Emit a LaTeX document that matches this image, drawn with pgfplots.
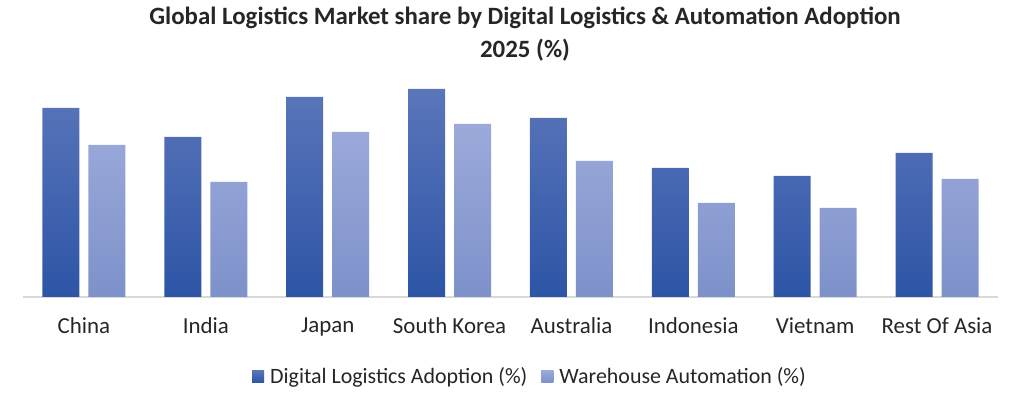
\documentclass[border=0pt]{standalone}
\usepackage{pgfplots}
\pgfplotsset{compat=1.18}
\usepackage{fontspec}
\setmainfont{Carlito}
\definecolor{dtop}{HTML}{5A75BA}
\definecolor{dbot}{HTML}{2D55A6}
\definecolor{ltop}{HTML}{9CAADA}
\definecolor{lbot}{HTML}{7D91CA}
\definecolor{dleg}{HTML}{3D62AE}
\definecolor{lleg}{HTML}{8C9ED3}
\begin{document}
\begin{tikzpicture}
\path[use as bounding box] (0,0) rectangle (1022bp,394bp);
\begin{axis}[
  at={(23bp,97bp)}, anchor=south west,
  scale only axis, width=975bp, height=230bp,
  xmin=-0.5, xmax=7.5, ymin=0, ymax=57.5,
  axis x line=bottom, axis y line=none,
  axis line style={-, draw=black!15, line width=1.2bp},
  xtick=data, major tick length=0pt,
  xticklabels={China, India, Japan, South Korea, Australia, Indonesia, Vietnam, Rest Of Asia},
  xticklabel style={font=\fontsize{23}{26}\selectfont, text=black!85, yshift=-17bp},
  ybar, bar width=37bp,
  legend columns=2,
  legend style={draw=none, at={(axis description cs:0.52,-0.345)}, anchor=center,
    font=\fontsize{22}{25}\selectfont, text=black!85,
    /tikz/every odd column/.append style={column sep=4bp},
    /tikz/every even column/.append style={column sep=12bp}},
]
\addplot[draw=none, top color=dtop, bottom color=dbot, bar shift=-23bp,
  legend image code/.code={\fill[dleg] (0bp,-6bp) rectangle (12bp,6bp);}]
  coordinates {(0,47.25) (1,40) (2,50) (3,52) (4,44.75) (5,32.25) (6,30.25) (7,36)};
\addlegendentry{Digital Logistics Adoption (\%)}
\addplot[draw=none, top color=ltop, bottom color=lbot, bar shift=23bp,
  legend image code/.code={\fill[lleg] (0bp,-6bp) rectangle (12bp,6bp);}]
  coordinates {(0,38) (1,28.75) (2,41.25) (3,43.25) (4,34) (5,23.5) (6,22.25) (7,29.5)};
\addlegendentry{Warehouse Automation (\%)}
\end{axis}
\node[align=center, font=\bfseries\fontsize{25}{33}\selectfont, text=black!85] at (525bp,360bp)
  {Global Logistics Market share by Digital Logistics \& Automation Adoption\\2025 (\%)};
\end{tikzpicture}
\end{document}
